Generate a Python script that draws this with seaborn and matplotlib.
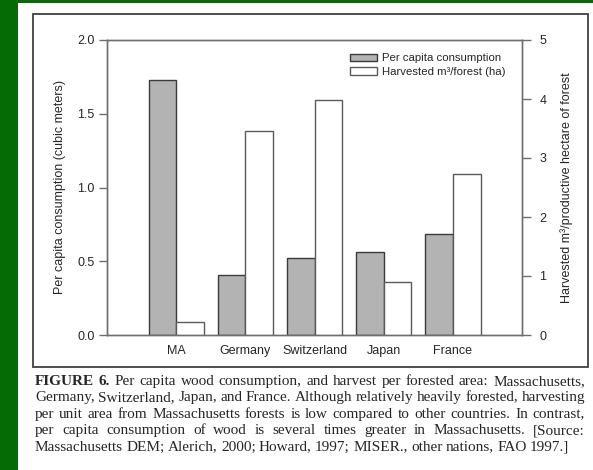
import numpy as np
import pandas as pd
import matplotlib
matplotlib.use("Agg")
import matplotlib.pyplot as plt
import seaborn as sns
from matplotlib.patches import Rectangle, Patch

# ---- data -------------------------------------------------------------
categories = ["MA", "Germany", "Switzerland", "Japan", "France"]
per_capita = [1.73, 0.41, 0.52, 0.56, 0.685]      # cubic meters per person
harvested = [0.22, 3.45, 3.98, 0.90, 2.73]        # m3 per productive ha
left_ticks = [0.0, 0.5, 1.0, 1.5, 2.0]
right_ticks = [0, 1, 2, 3, 4, 5]
series_labels = ["Per capita consumption", "Harvested m\u00b3/forest (ha)"]

caption_lines = [
    "FIGURE 6. Per capita wood consumption, and harvest per forested area: Massachusetts,",
    "Germany, Switzerland, Japan, and France. Although relatively heavily forested, harvesting",
    "per unit area from Massachusetts forests is low compared to other countries. In contrast,",
    "per capita consumption of wood is several times greater in Massachusetts. [Source:",
    "Massachusetts DEM; Alerich, 2000; Howard, 1997; MISER., other nations, FAO 1997.]",
]

# ---- style ------------------------------------------------------------
sns.set_style("ticks")
plt.rcParams["font.family"] = ["Liberation Sans", "DejaVu Sans"]

W, H = 593, 470
fig = plt.figure(figsize=(W / 100, H / 100), dpi=100)
fig.patch.set_facecolor("#056c05")

# white page and the box around the chart (drawn beneath the axes)
fig.patches.append(Rectangle((18 / W, 0), 1 - 18 / W, 1 - 3 / H,
                             transform=fig.transFigure, facecolor="white",
                             edgecolor="none", zorder=-3))
fig.patches.append(Rectangle((32.5 / W, (H - 367) / H), (588 - 32.5) / W,
                             (367 - 13.5) / H, transform=fig.transFigure,
                             fill=False, edgecolor="#404040", lw=1.3, zorder=-2))

ax = fig.add_axes([107 / W, (H - 335) / H, 415 / W, 295 / H])
ax.patch.set_alpha(0)
ax2 = ax.twinx()

pos = np.arange(len(categories))
df = pd.DataFrame({
    "category": categories,
    "x_gray": pos - 0.2,
    "x_white": pos + 0.2,
    "per_capita": per_capita,
    "harvested": harvested,
})

gray_fc, gray_ec = "#b3b3b3", "#3a3a3a"
white_ec = "#5a5a5a"

sns.barplot(data=df, x="x_gray", y="per_capita", native_scale=True, width=0.4,
            color=gray_fc, saturation=1, edgecolor=gray_ec, linewidth=1.0,
            errorbar=None, ax=ax)
sns.barplot(data=df, x="x_white", y="harvested", native_scale=True, width=0.4,
            color="white", saturation=1, edgecolor=white_ec, linewidth=1.0,
            errorbar=None, ax=ax2)

ax.set_xlim(-1, 5)
ax.set_ylim(0, 2)
ax2.set_ylim(0, 5)
ax.set_xticks(pos)
ax.set_xticklabels(categories)
ax.set_yticks(left_ticks)
ax.set_yticklabels([f"{v:.1f}" for v in left_ticks])
ax2.set_yticks(right_ticks)
ax2.set_yticklabels([str(v) for v in right_ticks])
ax.set_xlabel("")

spine_c = "#6e6e6e"
for a in (ax, ax2):
    for s in a.spines.values():
        s.set_visible(True)
        s.set_color(spine_c)
        s.set_linewidth(1.0)

text_c = "#262626"
ax.tick_params(axis="y", direction="out", length=6, width=1, color=spine_c,
               labelsize=9, pad=3, labelcolor=text_c, left=True, right=False)
ax.tick_params(axis="x", length=0, labelsize=9, pad=7, labelcolor=text_c)
ax2.tick_params(axis="y", direction="out", length=6.5, width=1, color=spine_c,
                labelsize=9, pad=6, labelcolor=text_c, right=True, left=False)
ax2.set_xlabel("")

ax.set_ylabel("Per capita consumption (cubic meters)", fontsize=9,
              color=text_c, labelpad=8)
ax2.set_ylabel("Harvested m\u00b3/productive hectare of forest", fontsize=9,
               color=text_c, labelpad=10)

handles = [Patch(facecolor=gray_fc, edgecolor=gray_ec, lw=1.0),
           Patch(facecolor="white", edgecolor=white_ec, lw=1.0)]
ax2.legend(handles, series_labels, loc="upper left",
           bbox_to_anchor=(0.585, 0.955), frameon=False, fontsize=8.2,
           handlelength=2.35, handleheight=0.6, handletextpad=0.45,
           labelspacing=0.32, borderaxespad=0, borderpad=0)

# ---- justified caption ------------------------------------------------
renderer = fig.canvas.get_renderer()
cap_font = dict(family=["Liberation Serif", "DejaVu Serif"], fontsize=11,
                color="#262626")
x_left, x_right = 35, 585
baseline0, line_step = 385, 16.4

for i, line in enumerate(caption_lines):
    words = line.split(" ")
    y = 1 - (baseline0 + i * line_step) / H
    texts = []
    for j, w in enumerate(words):
        bold = (i == 0 and j < 2)
        texts.append(fig.text(0, y, w, ha="left", va="baseline",
                              weight="bold" if bold else "normal", **cap_font))
    widths = [t.get_window_extent(renderer).width for t in texts]
    if i < len(caption_lines) - 1:
        gap = (x_right - x_left - sum(widths)) / (len(words) - 1)
    else:
        gap = 3.3
    x = x_left
    for t, w in zip(texts, widths):
        t.set_x(x / W)
        x += w + gap

fig.savefig("out.png", dpi=100)
